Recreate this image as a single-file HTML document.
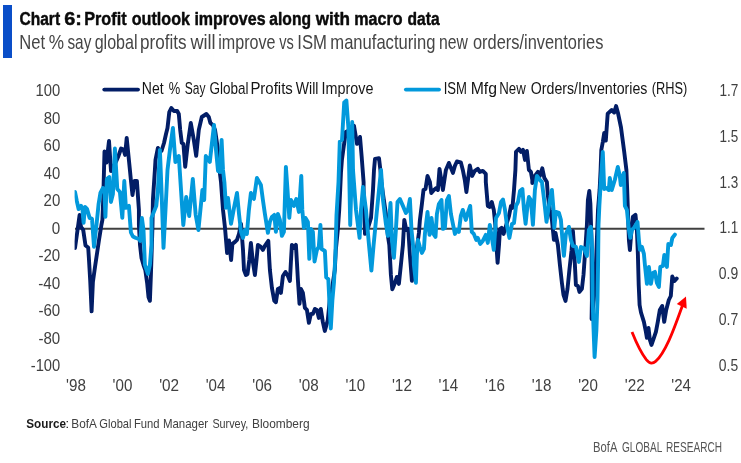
<!DOCTYPE html>
<html lang="en"><head><meta charset="utf-8"><title>Chart 6: Profit outlook improves along with macro data</title>
<style>
html,body{margin:0;padding:0;background:#fff;}
body{width:741px;height:463px;overflow:hidden;font-family:"Liberation Sans",Arial,sans-serif;}
svg{display:block;}
text{font-family:"Liberation Sans",Arial,sans-serif;white-space:pre;}
</style></head><body>
<svg width="741" height="463" viewBox="0 0 741 463">
<rect width="741" height="463" fill="#ffffff"/>
<rect x="3" y="5" width="9" height="53" fill="#0a4ec8"/>
<g id="title" stroke="#0a0a0a" stroke-width="0.45" stroke-linejoin="round">
<text><tspan x="19.38" y="24.6" font-size="18.9" font-weight="bold" fill="#0a0a0a" textLength="40.70" lengthAdjust="spacingAndGlyphs">Chart</tspan> <tspan x="64.20" y="24.6" font-size="18.9" font-weight="bold" fill="#0a0a0a" textLength="17.67" lengthAdjust="spacingAndGlyphs">6:</tspan> <tspan x="84.25" y="24.6" font-size="18.9" font-weight="bold" fill="#0a0a0a" textLength="42.33" lengthAdjust="spacingAndGlyphs">Profit</tspan> <tspan x="131.75" y="24.6" font-size="18.9" font-weight="bold" fill="#0a0a0a" textLength="58.25" lengthAdjust="spacingAndGlyphs">outlook</tspan> <tspan x="194.38" y="24.6" font-size="18.9" font-weight="bold" fill="#0a0a0a" textLength="71.18" lengthAdjust="spacingAndGlyphs">improves</tspan> <tspan x="269.33" y="24.6" font-size="18.9" font-weight="bold" fill="#0a0a0a" textLength="41.71" lengthAdjust="spacingAndGlyphs">along</tspan> <tspan x="315.69" y="24.6" font-size="18.9" font-weight="bold" fill="#0a0a0a" textLength="34.23" lengthAdjust="spacingAndGlyphs">with</tspan> <tspan x="354.25" y="24.6" font-size="18.9" font-weight="bold" fill="#0a0a0a" textLength="48.31" lengthAdjust="spacingAndGlyphs">macro</tspan> <tspan x="407.58" y="24.6" font-size="18.9" font-weight="bold" fill="#0a0a0a" textLength="32.09" lengthAdjust="spacingAndGlyphs">data</tspan></text>
</g>
<g id="subtitle">
<text><tspan x="19.27" y="49.1" font-size="20.7" fill="#454545" textLength="25.83" lengthAdjust="spacingAndGlyphs">Net</tspan> <tspan x="48.80" y="49.1" font-size="20.7" fill="#454545" textLength="15.29" lengthAdjust="spacingAndGlyphs">%</tspan> <tspan x="67.44" y="49.1" font-size="20.7" fill="#454545" textLength="23.88" lengthAdjust="spacingAndGlyphs">say</tspan> <tspan x="94.66" y="49.1" font-size="20.7" fill="#454545" textLength="42.85" lengthAdjust="spacingAndGlyphs">global</tspan> <tspan x="140.09" y="49.1" font-size="20.7" fill="#454545" textLength="46.48" lengthAdjust="spacingAndGlyphs">profits</tspan> <tspan x="190.40" y="49.1" font-size="20.7" fill="#454545" textLength="25.14" lengthAdjust="spacingAndGlyphs">will</tspan> <tspan x="218.25" y="49.1" font-size="20.7" fill="#454545" textLength="57.30" lengthAdjust="spacingAndGlyphs">improve</tspan> <tspan x="279.33" y="49.1" font-size="20.7" fill="#454545" textLength="14.58" lengthAdjust="spacingAndGlyphs">vs</tspan> <tspan x="297.30" y="49.1" font-size="20.7" fill="#454545" textLength="29.69" lengthAdjust="spacingAndGlyphs">ISM</tspan> <tspan x="330.32" y="49.1" font-size="20.7" fill="#454545" textLength="105.09" lengthAdjust="spacingAndGlyphs">manufacturing</tspan> <tspan x="438.98" y="49.1" font-size="20.7" fill="#454545" textLength="28.92" lengthAdjust="spacingAndGlyphs">new</tspan> <tspan x="472.94" y="49.1" font-size="20.7" fill="#454545" textLength="130.41" lengthAdjust="spacingAndGlyphs">orders/inventories</tspan></text>
</g>
<g id="yaxis-left">
<text><tspan x="35.59" y="95.8" font-size="16.5" fill="#404040" textLength="24.68" lengthAdjust="spacingAndGlyphs">100</tspan></text>
<text><tspan x="43.63" y="123.8" font-size="16.5" fill="#404040" textLength="16.63" lengthAdjust="spacingAndGlyphs">80</tspan></text>
<text><tspan x="43.55" y="150.8" font-size="16.5" fill="#404040" textLength="16.71" lengthAdjust="spacingAndGlyphs">60</tspan></text>
<text><tspan x="43.80" y="178.8" font-size="16.5" fill="#404040" textLength="16.45" lengthAdjust="spacingAndGlyphs">40</tspan></text>
<text><tspan x="43.55" y="205.8" font-size="16.5" fill="#404040" textLength="16.71" lengthAdjust="spacingAndGlyphs">20</tspan></text>
<text><tspan x="51.79" y="233.8" font-size="16.5" fill="#404040" textLength="8.46" lengthAdjust="spacingAndGlyphs">0</tspan></text>
<text><tspan x="38.42" y="260.8" font-size="16.5" fill="#404040" textLength="21.81" lengthAdjust="spacingAndGlyphs">-20</tspan></text>
<text><tspan x="38.21" y="288.8" font-size="16.5" fill="#404040" textLength="22.02" lengthAdjust="spacingAndGlyphs">-40</tspan></text>
<text><tspan x="38.42" y="315.8" font-size="16.5" fill="#404040" textLength="21.81" lengthAdjust="spacingAndGlyphs">-60</tspan></text>
<text><tspan x="38.42" y="343.8" font-size="16.5" fill="#404040" textLength="21.81" lengthAdjust="spacingAndGlyphs">-80</tspan></text>
<text><tspan x="30.74" y="370.8" font-size="16.5" fill="#404040" textLength="29.50" lengthAdjust="spacingAndGlyphs">-100</tspan></text>
</g>
<g id="yaxis-right">
<text><tspan x="719.38" y="95.9" font-size="16.5" fill="#404040" textLength="18.90" lengthAdjust="spacingAndGlyphs">1.7</tspan></text>
<text><tspan x="719.39" y="141.9" font-size="16.5" fill="#404040" textLength="18.75" lengthAdjust="spacingAndGlyphs">1.5</tspan></text>
<text><tspan x="719.39" y="187.9" font-size="16.5" fill="#404040" textLength="18.75" lengthAdjust="spacingAndGlyphs">1.3</tspan></text>
<text><tspan x="719.38" y="232.9" font-size="16.5" fill="#404040" textLength="18.83" lengthAdjust="spacingAndGlyphs">1.1</tspan></text>
<text><tspan x="718.84" y="278.9" font-size="16.5" fill="#404040" textLength="19.39" lengthAdjust="spacingAndGlyphs">0.9</tspan></text>
<text><tspan x="718.84" y="324.9" font-size="16.5" fill="#404040" textLength="19.46" lengthAdjust="spacingAndGlyphs">0.7</tspan></text>
<text><tspan x="718.84" y="370.9" font-size="16.5" fill="#404040" textLength="19.31" lengthAdjust="spacingAndGlyphs">0.5</tspan></text>
</g>
<g id="xaxis">
<text><tspan x="66.04" y="391.1" font-size="16.5" fill="#404040" textLength="19.82" lengthAdjust="spacingAndGlyphs">'98</tspan></text>
<text><tspan x="112.60" y="391.1" font-size="16.5" fill="#404040" textLength="19.74" lengthAdjust="spacingAndGlyphs">'00</tspan></text>
<text><tspan x="159.15" y="391.1" font-size="16.5" fill="#404040" textLength="19.98" lengthAdjust="spacingAndGlyphs">'02</tspan></text>
<text><tspan x="205.73" y="391.1" font-size="16.5" fill="#404040" textLength="19.66" lengthAdjust="spacingAndGlyphs">'04</tspan></text>
<text><tspan x="252.28" y="391.1" font-size="16.5" fill="#404040" textLength="19.82" lengthAdjust="spacingAndGlyphs">'06</tspan></text>
<text><tspan x="298.84" y="391.1" font-size="16.5" fill="#404040" textLength="19.82" lengthAdjust="spacingAndGlyphs">'08</tspan></text>
<text><tspan x="345.40" y="391.1" font-size="16.5" fill="#404040" textLength="19.74" lengthAdjust="spacingAndGlyphs">'10</tspan></text>
<text><tspan x="391.95" y="391.1" font-size="16.5" fill="#404040" textLength="19.98" lengthAdjust="spacingAndGlyphs">'12</tspan></text>
<text><tspan x="438.53" y="391.1" font-size="16.5" fill="#404040" textLength="19.66" lengthAdjust="spacingAndGlyphs">'14</tspan></text>
<text><tspan x="485.08" y="391.1" font-size="16.5" fill="#404040" textLength="19.82" lengthAdjust="spacingAndGlyphs">'16</tspan></text>
<text><tspan x="531.64" y="391.1" font-size="16.5" fill="#404040" textLength="19.82" lengthAdjust="spacingAndGlyphs">'18</tspan></text>
<text><tspan x="578.20" y="391.1" font-size="16.5" fill="#404040" textLength="19.74" lengthAdjust="spacingAndGlyphs">'20</tspan></text>
<text><tspan x="624.75" y="391.1" font-size="16.5" fill="#404040" textLength="19.98" lengthAdjust="spacingAndGlyphs">'22</tspan></text>
<text><tspan x="671.33" y="391.1" font-size="16.5" fill="#404040" textLength="19.66" lengthAdjust="spacingAndGlyphs">'24</tspan></text>
</g>
<line x1="75" y1="228.8" x2="704.5" y2="228.8" stroke="#404040" stroke-width="2"/>
<defs><clipPath id="plot"><rect x="74.6" y="80" width="631" height="295"/></clipPath></defs>
<g clip-path="url(#plot)">
<path d="M75.0,248.0 L77.4,231.0 L79.6,214.9 L81.0,226.9 L83.2,229.9 L85.5,245.5 L88.2,247.5 L89.0,260.0 L90.2,280.5 L91.6,311.3 L92.9,282.0 L95.0,267.0 L97.0,253.5 L99.0,240.0 L101.4,225.0 L102.4,219.9 L103.2,200.0 L104.0,170.0 L104.5,151.5 L106.5,162.5 L109.0,141.0 L111.0,171.0 L112.9,167.9 L115.9,161.9 L118.5,155.9 L121.1,148.5 L123.5,149.5 L125.1,154.9 L126.7,137.9 L129.9,169.9 L131.1,182.1 L132.5,195.0 L134.5,181.0 L136.9,181.0 L138.9,209.9 L138.9,225.0 L140.0,245.0 L141.5,258.0 L143.5,265.0 L145.3,270.0 L147.2,283.5 L148.5,297.0 L149.9,300.8 L150.9,275.0 L151.9,245.0 L152.5,225.0 L152.9,200.0 L154.9,170.0 L155.5,159.9 L157.9,147.9 L160.0,151.5 L161.5,151.0 L164.0,143.0 L166.0,134.0 L167.5,128.0 L169.3,112.0 L171.3,108.0 L173.9,111.0 L177.2,111.0 L178.8,114.0 L180.2,129.9 L181.8,142.9 L183.4,143.9 L185.2,166.9 L187.8,143.9 L190.8,123.0 L193.8,139.9 L196.2,155.9 L198.8,129.9 L201.8,117.0 L206.4,114.0 L208.8,117.0 L210.4,123.0 L212.8,125.0 L215.0,129.9 L218.0,149.9 L220.0,173.9 L221.0,182.0 L223.0,209.9 L225.0,227.9 L227.1,253.0 L229.0,240.5 L231.1,260.0 L232.4,243.9 L235.0,241.9 L237.0,239.9 L239.0,233.9 L241.0,223.9 L243.0,249.9 L244.0,270.0 L245.9,275.0 L247.5,274.0 L249.3,260.0 L250.9,242.9 L252.9,262.0 L254.9,275.0 L256.5,260.0 L257.9,244.9 L260.9,246.9 L262.9,249.9 L264.9,245.9 L268.3,240.9 L269.3,260.0 L269.9,270.0 L271.9,287.9 L274.3,300.9 L275.9,302.3 L277.9,288.9 L279.9,287.9 L280.9,292.9 L282.9,276.0 L285.5,272.0 L287.9,276.0 L289.9,281.0 L290.9,262.0 L291.9,244.9 L293.9,247.9 L295.9,244.9 L296.9,262.0 L297.9,280.0 L299.5,303.9 L300.9,288.9 L302.9,292.9 L304.9,307.9 L306.9,309.9 L308.9,322.9 L310.9,313.9 L312.9,313.9 L314.9,308.9 L316.9,309.9 L318.8,317.9 L320.8,308.9 L322.8,321.9 L324.8,330.9 L327.8,319.9 L329.8,299.9 L331.8,289.9 L334.8,270.0 L335.8,250.0 L337.8,230.0 L339.2,210.0 L340.2,190.0 L341.0,172.0 L341.9,160.0 L343.8,146.0 L345.8,131.9 L349.8,129.9 L354.0,125.9 L357.0,143.9 L360.0,136.9 L361.6,155.9 L363.6,182.1 L363.6,190.0 L365.0,233.9 L368.0,227.9 L371.0,217.9 L373.0,190.0 L374.0,170.0 L375.0,158.9 L379.0,158.3 L380.4,169.9 L381.4,182.0 L383.0,194.0 L385.9,213.9 L387.9,235.9 L389.3,245.0 L390.9,274.9 L392.3,289.3 L394.9,282.9 L396.9,276.9 L398.9,283.9 L400.9,264.9 L402.9,245.0 L404.3,219.9 L406.3,229.9 L408.3,228.9 L409.9,255.0 L411.9,280.9 L415.9,255.0 L418.9,233.0 L419.9,219.9 L421.9,204.0 L423.5,190.0 L425.5,189.0 L427.5,176.0 L429.9,182.0 L431.3,193.0 L433.9,190.0 L436.3,188.0 L437.9,190.0 L439.5,168.9 L442.9,190.0 L445.9,169.9 L448.9,162.9 L450.9,167.9 L452.9,172.9 L454.9,165.9 L456.9,161.5 L460.8,162.3 L462.8,169.9 L464.8,180.0 L466.4,192.0 L469.8,165.5 L472.2,175.9 L474.8,170.9 L477.8,168.9 L479.8,171.9 L482.8,170.9 L485.8,173.9 L485.8,182.0 L487.8,205.9 L489.8,206.9 L491.8,202.0 L493.8,209.9 L495.8,229.9 L496.4,245.0 L497.6,262.9 L499.0,245.0 L500.0,229.0 L501.6,227.9 L503.6,233.9 L506.0,225.9 L509.0,215.9 L511.0,205.9 L512.4,207.9 L514.0,190.0 L515.4,170.0 L516.0,151.9 L519.0,148.9 L521.0,151.9 L523.0,149.9 L525.0,159.9 L526.9,150.9 L528.9,169.9 L530.9,171.9 L532.3,179.9 L532.3,183.0 L534.9,176.0 L537.9,171.9 L539.9,175.9 L542.3,168.3 L544.3,177.9 L546.9,182.0 L547.9,196.0 L549.9,209.9 L551.9,219.9 L553.9,239.9 L555.5,233.0 L557.9,245.0 L559.9,264.9 L561.9,282.9 L563.5,294.9 L565.5,300.9 L567.5,288.9 L569.5,268.9 L571.5,251.0 L572.9,231.0 L573.9,245.0 L574.9,264.9 L575.9,284.9 L577.9,285.9 L579.5,291.9 L581.9,288.9 L583.5,274.9 L584.9,255.0 L586.9,225.0 L587.9,200.0 L589.3,191.0 L590.4,204.0 L591.5,240.0 L591.9,300.0 L591.6,319.0 L593.8,300.0 L595.2,278.0 L596.0,262.0 L598.0,210.0 L599.6,190.0 L600.6,170.0 L601.3,150.0 L602.8,142.0 L604.2,133.0 L605.8,140.5 L607.7,113.6 L611.7,110.0 L614.2,112.5 L616.1,106.0 L618.0,113.0 L621.0,127.5 L624.2,151.7 L626.4,170.0 L627.2,190.0 L627.9,210.0 L628.9,240.0 L629.9,250.0 L631.5,229.9 L632.9,216.9 L635.5,214.9 L636.9,230.0 L637.9,255.0 L638.7,285.0 L639.6,305.0 L641.0,312.5 L643.9,321.9 L645.9,331.9 L646.9,337.9 L648.5,327.9 L649.9,339.9 L651.5,344.9 L653.9,337.9 L655.9,331.9 L657.8,321.9 L659.8,310.0 L662.2,306.0 L664.2,321.9 L666.2,310.0 L668.8,300.0 L670.8,296.0 L672.3,276.5 L674.5,281.0 L676.7,278.5" fill="none" stroke="#021d66" stroke-width="3.9" stroke-linejoin="round" stroke-linecap="round"/>
<path d="M75.0,192.0 L76.8,201.0 L78.6,209.0 L81.0,205.9 L82.4,208.9 L83.6,222.9 L85.0,206.9 L87.0,208.9 L89.6,217.9 L92.0,218.9 L94.0,246.9 L96.6,223.9 L98.6,204.0 L100.4,193.0 L103.0,188.0 L104.4,190.0 L105.4,216.9 L106.9,179.0 L109.3,177.0 L110.9,202.0 L112.9,194.0 L114.9,148.5 L117.3,189.0 L119.9,192.0 L122.3,217.9 L124.3,181.0 L125.9,207.9 L128.9,205.9 L130.9,232.5 L132.9,236.5 L135.9,238.0 L138.9,239.0 L140.3,241.0 L141.9,217.9 L143.5,229.9 L144.9,264.9 L147.9,273.9 L149.9,264.9 L151.5,245.0 L151.5,217.9 L153.9,211.9 L156.3,205.9 L157.9,190.0 L159.9,149.9 L161.5,190.0 L163.5,247.9 L165.5,209.9 L167.5,170.0 L169.9,149.9 L172.9,127.9 L175.4,162.0 L178.8,156.0 L183.3,225.0 L186.2,197.0 L189.2,216.0 L192.8,179.0 L195.7,215.0 L198.4,230.0 L202.4,190.0 L204.2,200.0 L205.8,156.0 L209.8,162.0 L214.0,125.0 L216.0,149.9 L218.0,170.9 L220.0,171.9 L221.6,139.9 L223.0,169.9 L224.4,182.1 L226.0,207.9 L228.0,198.0 L231.0,223.9 L234.0,207.9 L237.0,193.0 L239.0,213.9 L241.0,231.9 L243.0,237.9 L245.0,229.9 L246.9,233.9 L248.9,209.9 L250.9,193.0 L253.9,199.0 L256.9,178.0 L260.9,185.0 L262.9,200.0 L264.9,213.9 L267.9,232.9 L269.9,221.9 L271.9,216.9 L274.3,214.9 L275.9,231.9 L277.9,213.9 L279.9,219.9 L281.9,235.9 L283.9,231.9 L285.9,166.9 L287.5,190.0 L289.3,217.9 L290.9,200.0 L293.9,205.9 L296.3,199.0 L298.9,211.9 L301.3,176.0 L302.3,209.9 L303.9,227.9 L305.5,217.9 L307.9,221.9 L309.3,258.9 L310.9,228.9 L312.9,231.9 L314.5,261.5 L316.9,249.9 L318.8,246.9 L320.4,224.9 L321.6,249.0 L324.9,251.0 L326.2,277.5 L328.3,279.0 L329.4,302.0 L330.8,328.5 L332.4,300.0 L334.0,282.0 L335.4,255.0 L336.5,215.0 L338.5,182.0 L339.8,141.5 L342.0,140.0 L344.2,102.5 L346.4,100.6 L348.4,128.0 L350.2,225.0 L351.2,190.0 L352.2,122.0 L353.0,170.0 L356.0,209.9 L359.6,237.9 L361.0,209.9 L363.0,187.0 L366.0,209.9 L368.0,233.9 L369.0,245.0 L371.4,270.5 L373.6,245.0 L377.0,209.9 L379.0,190.0 L381.0,169.9 L383.0,200.0 L385.9,223.9 L387.9,235.9 L390.5,203.0 L391.9,239.9 L393.9,257.9 L395.9,229.9 L397.5,202.0 L399.9,199.0 L402.9,205.9 L405.9,212.9 L407.9,209.9 L409.9,199.0 L411.5,229.9 L413.5,249.9 L413.9,264.9 L415.9,282.9 L416.9,255.0 L417.9,240.0 L419.9,247.0 L421.9,253.0 L423.9,249.0 L424.9,233.9 L427.5,211.9 L429.5,234.9 L431.5,217.9 L433.5,233.9 L435.5,236.9 L436.9,213.9 L438.9,204.0 L441.5,200.0 L442.9,228.9 L444.9,227.9 L446.9,200.0 L448.9,196.0 L450.9,213.9 L452.9,223.9 L454.9,233.9 L456.9,229.9 L458.8,231.9 L460.8,215.9 L462.8,209.9 L465.8,219.9 L468.2,211.9 L470.2,205.9 L471.8,231.9 L473.8,233.9 L476.2,239.9 L477.8,237.9 L480.2,243.9 L482.8,240.9 L485.8,234.9 L487.8,242.9 L489.8,224.9 L492.2,239.9 L493.8,249.9 L496.0,217.9 L499.0,212.9 L501.0,202.0 L503.0,199.6 L505.0,209.9 L507.0,225.9 L509.4,237.9 L512.0,223.9 L514.0,222.9 L516.0,205.9 L518.0,202.0 L520.0,191.0 L522.4,189.0 L524.0,209.9 L525.6,223.9 L527.5,205.9 L528.9,197.0 L530.9,200.0 L532.9,224.9 L534.9,190.0 L536.9,176.0 L539.9,180.0 L541.9,182.0 L543.9,198.0 L546.5,221.9 L548.3,209.9 L549.9,200.0 L551.9,190.0 L553.5,209.9 L554.3,227.9 L555.9,211.9 L558.9,212.9 L560.9,219.9 L562.9,245.9 L563.9,255.9 L565.9,233.9 L568.9,226.9 L570.9,239.9 L572.9,245.9 L575.9,246.9 L578.9,261.9 L580.9,247.0 L583.9,248.0 L586.9,256.0 L588.9,229.9 L590.9,226.9 L592.2,250.0 L592.6,300.0 L593.4,325.0 L594.6,357.0 L596.4,330.0 L597.5,300.0 L598.1,262.0 L598.5,225.0 L599.4,205.0 L600.9,180.0 L602.8,152.0 L604.2,189.0 L606.8,188.0 L608.8,190.0 L609.8,178.0 L611.8,190.0 L614.8,180.0 L617.8,166.9 L619.8,175.9 L620.8,185.0 L623.8,172.9 L624.9,205.9 L626.9,209.9 L628.9,229.9 L630.3,237.9 L631.9,229.9 L633.9,227.9 L637.5,221.9 L638.9,239.9 L639.9,249.9 L641.9,246.9 L643.9,253.9 L644.9,264.9 L646.9,283.9 L648.9,266.9 L650.9,283.9 L652.9,272.9 L654.9,271.9 L656.9,282.9 L658.9,286.9 L660.3,266.9 L662.9,265.9 L664.3,255.0 L666.9,266.9 L668.3,244.0 L670.9,245.0 L672.3,238.0 L674.9,234.6" fill="none" stroke="#0299dc" stroke-width="3.9" stroke-linejoin="round" stroke-linecap="round"/>
</g>
<g id="legend">
<line x1="104.3" y1="89.6" x2="138" y2="89.6" stroke="#021d66" stroke-width="3.9" stroke-linecap="round"/>
<text><tspan x="141.78" y="94.2" font-size="16.8" fill="#151515" textLength="21.81" lengthAdjust="spacingAndGlyphs">Net</tspan> <tspan x="168.85" y="94.2" font-size="16.8" fill="#151515" textLength="11.49" lengthAdjust="spacingAndGlyphs">%</tspan> <tspan x="184.76" y="94.2" font-size="16.8" fill="#151515" textLength="20.72" lengthAdjust="spacingAndGlyphs">Say</tspan> <tspan x="209.53" y="94.2" font-size="16.8" fill="#151515" textLength="38.96" lengthAdjust="spacingAndGlyphs">Global</tspan> <tspan x="250.40" y="94.2" font-size="16.8" fill="#151515" textLength="42.41" lengthAdjust="spacingAndGlyphs">Profits</tspan> <tspan x="295.83" y="94.2" font-size="16.8" fill="#151515" textLength="22.59" lengthAdjust="spacingAndGlyphs">Will</tspan> <tspan x="321.61" y="94.2" font-size="16.8" fill="#151515" textLength="51.87" lengthAdjust="spacingAndGlyphs">Improve</tspan></text>
<line x1="405.9" y1="89.6" x2="439" y2="89.6" stroke="#0299dc" stroke-width="3.9" stroke-linecap="round"/>
<text><tspan x="443.72" y="94.2" font-size="16.8" fill="#151515" textLength="23.26" lengthAdjust="spacingAndGlyphs">ISM</tspan> <tspan x="470.64" y="94.2" font-size="16.8" fill="#151515" textLength="26.32" lengthAdjust="spacingAndGlyphs">Mfg</tspan> <tspan x="499.24" y="94.2" font-size="16.8" fill="#151515" textLength="26.50" lengthAdjust="spacingAndGlyphs">New</tspan> <tspan x="530.76" y="94.2" font-size="16.8" fill="#151515" textLength="116.65" lengthAdjust="spacingAndGlyphs">Orders/Inventories</tspan> <tspan x="651.63" y="94.2" font-size="16.8" fill="#151515" textLength="35.57" lengthAdjust="spacingAndGlyphs">(RHS)</tspan></text>
</g>
<path d="M632,332 C636,342 641.5,353.5 646.3,359.6 C648.5,362.2 650,363.2 651.5,363.1 C653,363 654.5,362.3 655.6,361.4 C659,358.5 665,349 669,340.3 C673,332 678,318 682.3,306" fill="none" stroke="#ff0000" stroke-width="2.8" stroke-linecap="butt"/>
<polygon points="686,296.6 676.8,304 686.7,308.7" fill="#ff0000"/>
<g id="source">
<text><tspan x="26.25" y="427.7" font-size="13.5" font-weight="bold" fill="#1a1a1a" textLength="39.77" lengthAdjust="spacingAndGlyphs">Source</tspan><tspan x="65.17" y="427.7" font-size="13.5" fill="#333333" textLength="4.09" lengthAdjust="spacingAndGlyphs">:</tspan> <tspan x="71.36" y="427.7" font-size="13.5" fill="#404040" textLength="25.58" lengthAdjust="spacingAndGlyphs">BofA</tspan> <tspan x="99.34" y="427.7" font-size="13.5" fill="#404040" textLength="32.19" lengthAdjust="spacingAndGlyphs">Global</tspan> <tspan x="133.90" y="427.7" font-size="13.5" fill="#404040" textLength="25.62" lengthAdjust="spacingAndGlyphs">Fund</tspan> <tspan x="162.88" y="427.7" font-size="13.5" fill="#404040" textLength="45.21" lengthAdjust="spacingAndGlyphs">Manager</tspan> <tspan x="212.41" y="427.7" font-size="13.5" fill="#404040" textLength="35.82" lengthAdjust="spacingAndGlyphs">Survey,</tspan> <tspan x="251.95" y="427.7" font-size="13.5" fill="#404040" textLength="57.64" lengthAdjust="spacingAndGlyphs">Bloomberg</tspan></text>
</g>
<g id="brand">
<text><tspan x="593.10" y="452.1" font-size="14" fill="#555555" textLength="24.33" lengthAdjust="spacingAndGlyphs">BofA</tspan> <tspan x="622.00" y="452.1" font-size="14" fill="#555555" textLength="40.22" lengthAdjust="spacingAndGlyphs">GLOBAL</tspan> <tspan x="666.09" y="452.1" font-size="14" fill="#555555" textLength="55.93" lengthAdjust="spacingAndGlyphs">RESEARCH</tspan></text>
</g>
</svg>
</body></html>
